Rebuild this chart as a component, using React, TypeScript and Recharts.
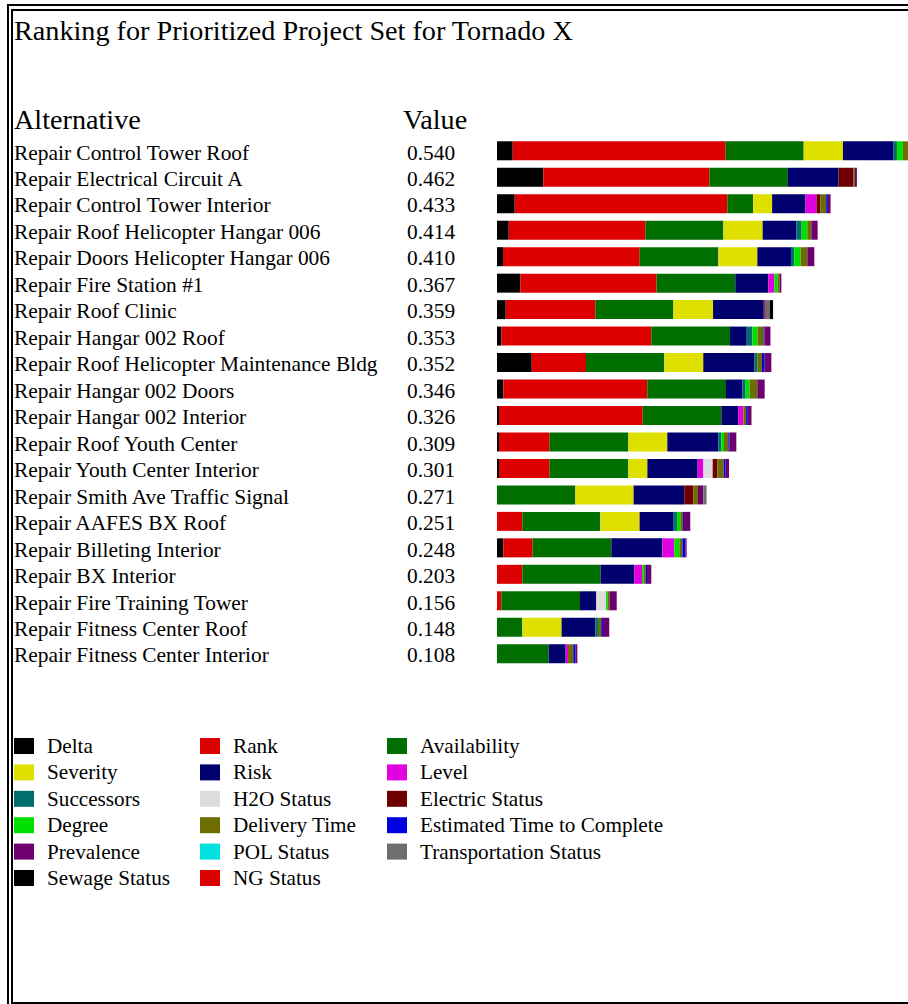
import { BarChart, Bar, XAxis, YAxis, Legend } from "recharts";

const alternatives = [
  "Repair Control Tower Roof",
  "Repair Electrical Circuit A",
  "Repair Control Tower Interior",
  "Repair Roof Helicopter Hangar 006",
  "Repair Doors Helicopter Hangar 006",
  "Repair Fire Station #1",
  "Repair Roof Clinic",
  "Repair Hangar 002 Roof",
  "Repair Roof Helicopter Maintenance Bldg",
  "Repair Hangar 002 Doors",
  "Repair Hangar 002 Interior",
  "Repair Roof Youth Center",
  "Repair Youth Center Interior",
  "Repair Smith Ave Traffic Signal",
  "Repair AAFES BX Roof",
  "Repair Billeting Interior",
  "Repair BX Interior",
  "Repair Fire Training Tower",
  "Repair Fitness Center Roof",
  "Repair Fitness Center Interior",
];

const totals = [
  "0.540", "0.462", "0.433", "0.414", "0.410", "0.367", "0.359", "0.353", "0.352", "0.346",
  "0.326", "0.309", "0.301", "0.271", "0.251", "0.248", "0.203", "0.156", "0.148", "0.108",
];

// criterion contributions per alternative, same order as above
const delta = [0.0204, 0.0601, 0.023, 0.0152, 0.0078, 0.0303, 0.0113, 0.0056, 0.0451, 0.0082, 0.0026, 0.0026, 0.0026, 0, 0, 0.0082, 0, 0, 0, 0];
const rank = [0.2766, 0.216, 0.2762, 0.1775, 0.1775, 0.177, 0.1165, 0.1948, 0.0705, 0.187, 0.1866, 0.0658, 0.0658, 0, 0.0329, 0.0381, 0.0329, 0.0056, 0, 0];
const availability = [0.1013, 0.1017, 0.0334, 0.1013, 0.1022, 0.1022, 0.1013, 0.1022, 0.1017, 0.1022, 0.1022, 0.1022, 0.1022, 0.1017, 0.1013, 0.1022, 0.1017, 0.1022, 0.0329, 0.0671];
const severity = [0.051, 0, 0.0247, 0.051, 0.0506, 0, 0.0515, 0, 0.0506, 0, 0, 0.0506, 0.0247, 0.0757, 0.051, 0, 0, 0, 0.051, 0];
const risk = [0.0658, 0.0658, 0.0433, 0.0437, 0.0437, 0.0429, 0.0658, 0.0217, 0.0662, 0.0212, 0.0217, 0.0662, 0.0653, 0.0658, 0.0442, 0.0662, 0.0437, 0.0212, 0.0437, 0.0221];
const level = [0, 0, 0.0143, 0, 0, 0.0078, 0, 0, 0, 0, 0.0069, 0, 0.0074, 0, 0, 0.0156, 0.01, 0, 0, 0.003];
const successors = [0.0043, 0, 0, 0.0069, 0.0043, 0, 0, 0.0074, 0.0039, 0.0043, 0, 0.0039, 0, 0, 0.0043, 0, 0, 0, 0.0035, 0];
const h2o = [0, 0, 0, 0, 0, 0, 0, 0, 0, 0, 0, 0, 0.0121, 0, 0, 0, 0, 0.0126, 0, 0];
const electric = [0, 0.0195, 0.0052, 0, 0, 0, 0.0013, 0, 0, 0, 0, 0, 0.0061, 0.0117, 0, 0, 0, 0, 0, 0];
const degree = [0.0078, 0, 0, 0.0074, 0.0082, 0.0043, 0, 0.0065, 0, 0.0052, 0, 0.0035, 0, 0, 0.0043, 0.0065, 0.0022, 0.0022, 0, 0];
const delivery = [0.0078, 0.0017, 0.0074, 0.0052, 0.0087, 0.0026, 0, 0.0078, 0.0061, 0.01, 0.0035, 0.0056, 0.0082, 0.0061, 0.0035, 0.0039, 0.0026, 0.0022, 0.0043, 0.0069];
const estTime = [0, 0, 0.0022, 0, 0, 0, 0, 0.0013, 0.0035, 0, 0.0022, 0.0017, 0.0026, 0, 0.0013, 0.0039, 0.0017, 0, 0.0022, 0.003];
const prevalence = [0.005, 0.0026, 0.0035, 0.0082, 0.0091, 0.0022, 0.0013, 0.0078, 0.0087, 0.0095, 0.0048, 0.0087, 0.0043, 0.0069, 0.0082, 0.0017, 0.0056, 0.0095, 0.0082, 0.0022];
const pol = [0, 0, 0, 0, 0, 0, 0, 0, 0, 0, 0, 0, 0, 0, 0, 0, 0, 0, 0, 0];
const transportation = [0, 0, 0, 0, 0, 0, 0.0052, 0, 0, 0, 0, 0, 0, 0.0043, 0, 0, 0, 0, 0, 0];
const sewage = [0, 0, 0, 0, 0, 0, 0.0043, 0, 0, 0, 0, 0, 0, 0, 0, 0, 0, 0, 0, 0];
const ngStatus = [0, 0, 0, 0, 0, 0, 0, 0, 0, 0, 0, 0, 0, 0, 0, 0, 0, 0, 0, 0];

const SERIES = [
  { key: "delta", name: "Delta", color: "#000000", values: delta },
  { key: "rank", name: "Rank", color: "#dd0000", values: rank },
  { key: "availability", name: "Availability", color: "#006e00", values: availability },
  { key: "severity", name: "Severity", color: "#e0e000", values: severity },
  { key: "risk", name: "Risk", color: "#00006e", values: risk },
  { key: "level", name: "Level", color: "#e000e0", values: level },
  { key: "successors", name: "Successors", color: "#006e6e", values: successors },
  { key: "h2o", name: "H2O Status", color: "#dddddd", values: h2o },
  { key: "electric", name: "Electric Status", color: "#6e0000", values: electric },
  { key: "degree", name: "Degree", color: "#00e000", values: degree },
  { key: "delivery", name: "Delivery Time", color: "#6e6e00", values: delivery },
  { key: "estTime", name: "Estimated Time to Complete", color: "#0000e0", values: estTime },
  { key: "prevalence", name: "Prevalence", color: "#6e006e", values: prevalence },
  { key: "pol", name: "POL Status", color: "#00e0e0", values: pol },
  { key: "transportation", name: "Transportation Status", color: "#6e6e6e", values: transportation },
  { key: "sewage", name: "Sewage Status", color: "#000000", values: sewage },
  { key: "ngStatus", name: "NG Status", color: "#dd0000", values: ngStatus },
];

const FONT = "'Liberation Serif', 'Times New Roman', serif";

const data = alternatives.map((name, i) => {
  const row: any = { name, total: totals[i] };
  SERIES.forEach(s => { row[s.key] = s.values[i]; });
  return row;
});

const RowTick = (props: any) => {
  const { y, payload } = props;
  const i = payload.index;
  return (
    <g>
      <text x={14} y={y + 9} fontSize={21.4} fontFamily={FONT} fill="#000">{payload.value}</text>
      <text x={407} y={y + 9} fontSize={21.4} fontFamily={FONT} fill="#000">{totals[i]}</text>
    </g>
  );
};

const LegendGrid = (props: any) => {
  const items = props.payload || [];
  const swatchX = [14, 200, 387];
  // keep the series order (Recharts sorts the payload by name)
  const ordered = SERIES.map(s => items.find((it: any) => it.value === s.name)).filter(Boolean);
  return (
    <svg width={700} height={170}>
      {ordered.map((item: any, i: number) => {
        const col = i % 3;
        const row = Math.floor(i / 3);
        const cy = 11 + row * 26.4;
        return (
          <g key={item.value}>
            <rect x={swatchX[col]} y={cy - 8} width={20} height={16} fill={item.color} />
            <text x={swatchX[col] + 33} y={cy + 7} fontSize={21.2} fontFamily={FONT} fill="#000">
              {item.value}
            </text>
          </g>
        );
      })}
    </svg>
  );
};

export default function App() {
  return (
    <div style={{ position: "absolute", left: 0, top: 0, width: 908, height: 1004, overflow: "hidden", background: "#fff" }}>
      {/* double frame */}
      <div style={{ position: "absolute", left: 7, top: 4, width: 1200, height: 1200, borderTop: "2px solid #000", borderLeft: "2px solid #000" }} />
      <div style={{ position: "absolute", left: 11, top: 9, width: 1200, height: 991, border: "2px solid #000" }} />
      <svg width={908} height={140} style={{ position: "absolute", left: 0, top: 0 }}>
        <text x={14} y={40} fontSize={28.2} fontFamily={FONT} fill="#000">Ranking for Prioritized Project Set for Tornado X</text>
        <text x={14} y={129} fontSize={28.2} fontFamily={FONT} fill="#000">Alternative</text>
        <text x={403} y={129} fontSize={28.2} fontFamily={FONT} fill="#000">Value</text>
      </svg>
      <div style={{ position: "absolute", left: 0, top: 0 }}>
        <BarChart
          width={959}
          height={900}
          data={data}
          layout="vertical"
          margin={{ top: 137.3, right: 0, left: 0, bottom: 63.3 }}
          barSize={19}
        >
          <XAxis type="number" domain={[0, 0.6]} hide allowDataOverflow />
          <YAxis
            type="category"
            dataKey="name"
            width={497}
            axisLine={false}
            tickLine={false}
            interval={0}
            tick={(p: any) => <RowTick {...p} />}
          />
          <Legend
            content={(p: any) => <LegendGrid {...p} />}
            wrapperStyle={{ position: "absolute", left: 0, top: 735, width: 700, height: 170 }}
          />
          {SERIES.map(s => (
            <Bar key={s.key} dataKey={s.key} name={s.name} stackId="a" fill={s.color} isAnimationActive={false} />
          ))}
        </BarChart>
      </div>
    </div>
  );
}
